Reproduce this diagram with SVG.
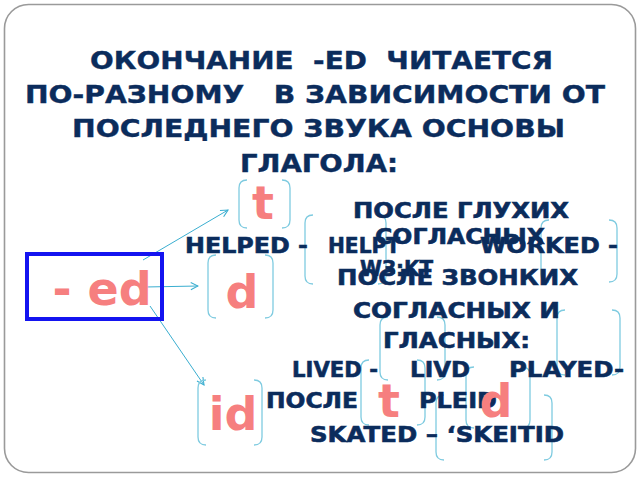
<svg xmlns="http://www.w3.org/2000/svg" width="640" height="480" viewBox="0 0 640 480">
<style>
text{white-space:pre;}
.title{font-family:"DejaVu Sans","Liberation Sans",sans-serif;font-weight:bold;font-size:25px;fill:#0b2c5c;stroke:#0b2c5c;stroke-width:0.4;}
.body{font-family:"DejaVu Sans","Liberation Sans",sans-serif;font-weight:bold;font-size:22px;fill:#0b2c5c;stroke:#0b2c5c;stroke-width:0.6;}
.pink{font-family:"DejaVu Sans","Liberation Sans",sans-serif;font-weight:bold;font-size:46px;fill:#f67f7f;text-anchor:middle;}
.br{fill:none;stroke:#7fcbe0;stroke-width:1.3;}
.arr{fill:none;stroke:#3aaed0;stroke-width:1;marker-end:url(#ah);}
</style>
<defs>
<marker id="ah" viewBox="0 0 10 10" refX="9" refY="5" markerWidth="9" markerHeight="9" markerUnits="userSpaceOnUse" orient="auto">
<path d="M1,1 L9,5 L1,9" fill="none" stroke="#3aaed0" stroke-width="1.2"/>
</marker>
</defs>
<rect width="640" height="480" fill="#ffffff"/>
<rect x="4.5" y="4.5" width="631" height="468" rx="24" ry="24" fill="#ffffff" stroke="#9a9a9a" stroke-width="1.6"/>

<g id="title">
<text class="title" x="90" y="69" textLength="463" lengthAdjust="spacingAndGlyphs">ОКОНЧАНИЕ  -ED  ЧИТАЕТСЯ</text>
<text class="title" x="25" y="103" textLength="580" lengthAdjust="spacingAndGlyphs">ПО-РАЗНОМУ   В ЗАВИСИМОСТИ ОТ</text>
<text class="title" x="72" y="137" textLength="493" lengthAdjust="spacingAndGlyphs">ПОСЛЕДНЕГО ЗВУКА ОСНОВЫ</text>
<text class="title" x="240" y="172" textLength="158" lengthAdjust="spacingAndGlyphs">ГЛАГОЛА:</text>
</g>

<g id="connectors">
<line class="arr" x1="143" y1="260" x2="228" y2="210"/>
<line class="arr" x1="145" y1="287" x2="198" y2="286"/>
<line class="arr" x1="150" y1="306" x2="204" y2="385"/>
</g>

<g id="ed">
<rect x="27" y="254" width="135" height="65" fill="none" stroke="#1414f0" stroke-width="4"/>
<text class="pink" x="102" y="305">- ed</text>
</g>

<g id="brackets">
<path class="br" d="M247,180 Q239,180 239,188 V220 Q239,228 247,228 M282,180 Q290,180 290,188 V220 Q290,228 282,228"/>
<path class="br" d="M216,255 Q208,255 208,263 V310 Q208,318 216,318 M265,255 Q273,255 273,263 V310 Q273,318 265,318"/>
<path class="br" d="M313,215 Q305,215 305,223 V276 Q305,284 313,284 M378,215 Q386,215 386,223 V276 Q386,284 378,284"/>
<path class="br" d="M549,220 Q541,220 541,228 V274 Q541,282 549,282 M609,220 Q617,220 617,228 V274 Q617,282 609,282"/>
<path class="br" d="M388,317 Q380,317 380,325 V372 Q380,380 388,380 M437,317 Q445,317 445,325 V372 Q445,380 437,380"/>
<path class="br" d="M565,310 Q557,310 557,318 V367 Q557,375 565,375 M612,310 Q620,310 620,318 V367 Q620,375 612,375"/>
<path class="br" d="M369,360 Q361,360 361,368 V417 Q361,425 369,425 M417,360 Q425,360 425,368 V417 Q425,425 417,425"/>
<path class="br" d="M474,367 Q466,367 466,375 V420 Q466,428 474,428 M522,367 Q530,367 530,375 V420 Q530,428 522,428"/>
<path class="br" d="M444,395 Q436,395 436,403 V452 Q436,460 444,460 M544,395 Q552,395 552,403 V452 Q552,460 544,460"/>
<path class="br" d="M206,380 Q198,380 198,388 V437 Q198,445 206,445 M254,380 Q262,380 262,388 V437 Q262,445 254,445"/>
</g>

<g id="voiceless">
<text class="body" x="353" y="218" textLength="216" lengthAdjust="spacingAndGlyphs">ПОСЛЕ ГЛУХИХ</text>
<text class="body" x="375" y="244" textLength="170" lengthAdjust="spacingAndGlyphs">СОГЛАСНЫХ</text>
<text class="body" x="185" y="253" textLength="123" lengthAdjust="spacingAndGlyphs">HELPED -</text>
<text class="body" x="328" y="253" textLength="72" lengthAdjust="spacingAndGlyphs">HELPT</text>
<text class="body" x="480" y="253" textLength="138" lengthAdjust="spacingAndGlyphs">WORKED -</text>
<text class="body" x="360" y="276" textLength="73" lengthAdjust="spacingAndGlyphs">WЗ:KT</text>
</g>

<g id="voiced">
<text class="body" x="337" y="285" textLength="241" lengthAdjust="spacingAndGlyphs">ПОСЛЕ ЗВОНКИХ</text>
<text class="body" x="353" y="318" textLength="207" lengthAdjust="spacingAndGlyphs">СОГЛАСНЫХ И</text>
<text class="body" x="383" y="348" textLength="147" lengthAdjust="spacingAndGlyphs">ГЛАСНЫХ:</text>
<text class="body" x="292" y="377" textLength="86" lengthAdjust="spacingAndGlyphs">LIVED -</text>
<text class="body" x="410" y="377" textLength="60" lengthAdjust="spacingAndGlyphs">LIVD</text>
<text class="body" x="509" y="377" textLength="115" lengthAdjust="spacingAndGlyphs">PLAYED-</text>
<text class="body" x="266" y="408" textLength="92" lengthAdjust="spacingAndGlyphs">ПОСЛЕ</text>
<text class="body" x="419" y="408" textLength="78" lengthAdjust="spacingAndGlyphs">PLEID</text>
<text class="body" x="310" y="442" textLength="254" lengthAdjust="spacingAndGlyphs">SKATED – ‘SKEITID</text>
</g>

<g id="node-t1"><text class="pink" x="263" y="219">t</text></g>
<g id="node-d1"><text class="pink" x="242" y="308">d</text></g>
<g id="node-id"><text class="pink" x="233" y="430">id</text></g>
<g id="node-t2"><text class="pink" x="389" y="417">t</text></g>
<g id="node-d2"><text class="pink" x="496" y="417">d</text></g>
</svg>
